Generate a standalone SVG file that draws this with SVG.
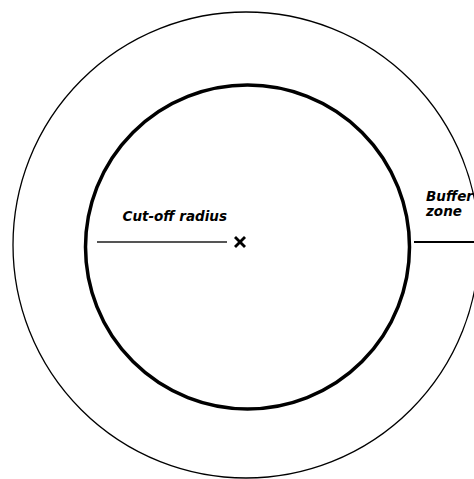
<svg xmlns="http://www.w3.org/2000/svg" width="474" height="479" viewBox="0 0 474 479">
<style>
.lbl{font-family:"DejaVu Sans",sans-serif;font-weight:bold;font-style:italic;font-size:13.5px;fill:#000}
</style>
<rect width="474" height="479" fill="#fff"/>
<g id="outer-circle"><circle cx="246" cy="245" r="233" fill="none" stroke="#000" stroke-width="1.3"/></g>
<g id="inner-circle"><circle cx="247.5" cy="247" r="162" fill="none" stroke="#000" stroke-width="3.5"/></g>
<g id="connectors">
<line x1="97" y1="242" x2="227" y2="242" stroke="#555" stroke-width="2"/>
<line x1="414" y1="242" x2="474" y2="242" stroke="#000" stroke-width="2"/>
</g>
<g id="center-mark" stroke="#000" stroke-width="2.8">
<line x1="235" y1="237" x2="245" y2="247"/>
<line x1="245" y1="237" x2="235" y2="247"/>
</g>
<g id="cutoff-label"><text class="lbl" x="122.5" y="221">Cut-off radius</text></g>
<g id="buffer-label"><text class="lbl" x="426" y="201">Buffer</text><text class="lbl" x="426" y="216">zone</text></g>
</svg>
